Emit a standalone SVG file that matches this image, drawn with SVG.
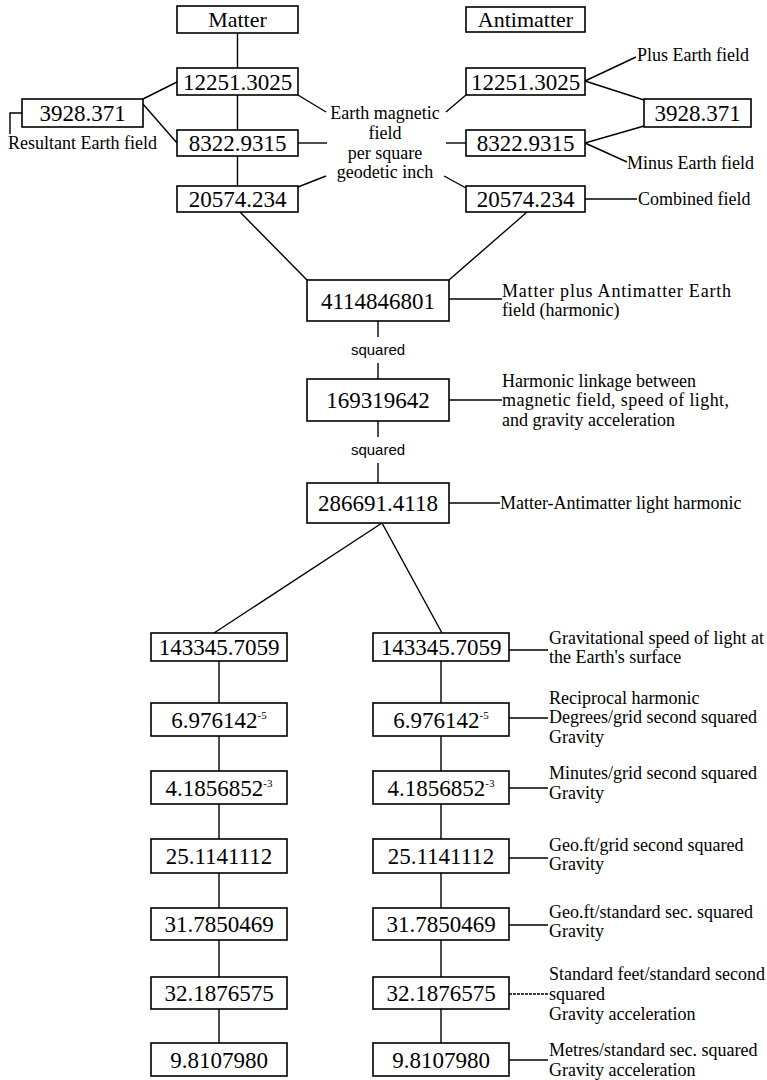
<svg xmlns="http://www.w3.org/2000/svg" width="767" height="1080" viewBox="0 0 767 1080">
<style>
.box{fill:#fff;stroke:#000;stroke-width:1.6}
.ln{stroke:#000;stroke-width:1.4;fill:none}
.num{font-family:"Liberation Serif","Times New Roman",serif;font-size:23px;text-anchor:middle;fill:#000}
.hd{font-family:"Liberation Serif","Times New Roman",serif;font-size:22px;text-anchor:middle;fill:#000}
.lbl{font-family:"Liberation Serif","Times New Roman",serif;font-size:18px;fill:#000}
.mid{text-anchor:middle}
.sq{font-family:"Liberation Sans",Arial,sans-serif;font-size:15px;text-anchor:middle;fill:#000}
.sup{font-size:11px}
</style>
<rect width="767" height="1080" fill="#fff"/>
<g id="connectors">
  <line class="ln" x1="237.5" y1="33" x2="237.5" y2="68"/>
  <line class="ln" x1="237.5" y1="95" x2="237.5" y2="130"/>
  <line class="ln" x1="237.5" y1="156" x2="237.5" y2="186"/>
  <line class="ln" x1="143" y1="99" x2="177" y2="82"/>
  <line class="ln" x1="143" y1="104" x2="177" y2="143"/>
  <polyline class="ln" points="22,113 10,113 10,134"/>
  <line class="ln" x1="298" y1="95" x2="326" y2="112"/>
  <line class="ln" x1="298" y1="143" x2="327" y2="143"/>
  <line class="ln" x1="298" y1="187" x2="326" y2="176"/>
  <line class="ln" x1="446" y1="112" x2="466" y2="95"/>
  <line class="ln" x1="446" y1="143" x2="466" y2="143"/>
  <line class="ln" x1="444" y1="176" x2="466" y2="188"/>
  <line class="ln" x1="585" y1="81" x2="636" y2="57"/>
  <line class="ln" x1="585" y1="81" x2="644" y2="100"/>
  <line class="ln" x1="585" y1="143" x2="644" y2="126"/>
  <line class="ln" x1="585" y1="143" x2="627" y2="162"/>
  <line class="ln" x1="585" y1="199" x2="637" y2="199"/>
  <line class="ln" x1="240" y1="212" x2="307" y2="280"/>
  <line class="ln" x1="527" y1="212" x2="449" y2="280"/>
  <line class="ln" x1="449" y1="299" x2="502" y2="299"/>
  <line class="ln" x1="378" y1="321" x2="378" y2="337"/>
  <line class="ln" x1="378" y1="363" x2="378" y2="379"/>
  <line class="ln" x1="449" y1="400" x2="502" y2="400"/>
  <line class="ln" x1="378" y1="421" x2="378" y2="437"/>
  <line class="ln" x1="378" y1="463" x2="378" y2="483"/>
  <line class="ln" x1="449" y1="503" x2="500" y2="503"/>
  <line class="ln" x1="382" y1="523" x2="214" y2="633"/>
  <line class="ln" x1="382" y1="523" x2="442" y2="633"/>
  <line class="ln" x1="219" y1="661" x2="219" y2="703"/>
  <line class="ln" x1="219" y1="736" x2="219" y2="771"/>
  <line class="ln" x1="219" y1="804" x2="219" y2="839"/>
  <line class="ln" x1="219" y1="873" x2="219" y2="908"/>
  <line class="ln" x1="219" y1="940" x2="219" y2="977"/>
  <line class="ln" x1="219" y1="1009" x2="219" y2="1043"/>
  <line class="ln" x1="441" y1="661" x2="441" y2="703"/>
  <line class="ln" x1="441" y1="736" x2="441" y2="771"/>
  <line class="ln" x1="441" y1="804" x2="441" y2="839"/>
  <line class="ln" x1="441" y1="873" x2="441" y2="908"/>
  <line class="ln" x1="441" y1="940" x2="441" y2="977"/>
  <line class="ln" x1="441" y1="1009" x2="441" y2="1043"/>
  <line class="ln" x1="509" y1="650" x2="548" y2="650"/>
  <line class="ln" x1="509" y1="718" x2="548" y2="718"/>
  <line class="ln" x1="509" y1="788" x2="548" y2="788"/>
  <line class="ln" x1="509" y1="858" x2="548" y2="858"/>
  <line class="ln" x1="509" y1="925" x2="548" y2="925"/>
  <line class="ln" x1="509" y1="994" x2="548" y2="994" stroke-dasharray="3,1"/>
  <line class="ln" x1="509" y1="1060" x2="548" y2="1060"/>
</g>

<g id="n-matter"><rect class="box" x="177" y="6" width="121" height="27"/><text class="hd" x="237.5" y="27">Matter</text></g>
<g id="n-antimatter"><rect class="box" x="466" y="7" width="119" height="25"/><text class="hd" x="525.5" y="27">Antimatter</text></g>

<g id="n-l-12251"><rect class="box" x="177" y="68" width="121" height="27"/><text class="num" x="237.5" y="89.5">12251.3025</text></g>
<g id="n-l-8322"><rect class="box" x="177" y="130" width="121" height="26"/><text class="num" x="237.5" y="151">8322.9315</text></g>
<g id="n-l-20574"><rect class="box" x="177" y="186" width="121" height="26"/><text class="num" x="237.5" y="207">20574.234</text></g>
<g id="n-l-3928"><rect class="box" x="22" y="99" width="121" height="28"/><text class="num" x="82.5" y="121">3928.371</text></g>

<g id="n-r-12251"><rect class="box" x="466" y="68" width="119" height="27"/><text class="num" x="525.5" y="89.5">12251.3025</text></g>
<g id="n-r-8322"><rect class="box" x="466" y="130" width="119" height="26"/><text class="num" x="525.5" y="151">8322.9315</text></g>
<g id="n-r-20574"><rect class="box" x="466" y="186" width="119" height="26"/><text class="num" x="525.5" y="207">20574.234</text></g>
<g id="n-r-3928"><rect class="box" x="644" y="99" width="107" height="28"/><text class="num" x="697.5" y="121">3928.371</text></g>

<g id="lbl-resultant"><text class="lbl" x="8" y="149">Resultant Earth field</text></g>
<g id="lbl-earth-magnetic">
  <text class="lbl mid" x="385" y="119">Earth magnetic</text>
  <text class="lbl mid" x="385" y="139">field</text>
  <text class="lbl mid" x="385" y="159">per square</text>
  <text class="lbl mid" x="385" y="178">geodetic inch</text>
</g>
<g id="lbl-plus"><text class="lbl" x="637" y="61">Plus Earth field</text></g>
<g id="lbl-minus"><text class="lbl" x="627" y="169">Minus Earth field</text></g>
<g id="lbl-combined"><text class="lbl" x="638" y="205">Combined field</text></g>

<g id="n-4114846801"><rect class="box" x="307" y="280" width="142" height="41"/><text class="num" x="378" y="308.5">4114846801</text></g>
<g id="lbl-matter-plus">
  <text class="lbl" x="502" y="297" letter-spacing="0.8">Matter plus Antimatter Earth</text>
  <text class="lbl" x="502" y="316">field (harmonic)</text>
</g>
<g id="lbl-squared-1"><text class="sq" x="378" y="355">squared</text></g>

<g id="n-169319642"><rect class="box" x="307" y="379" width="142" height="42"/><text class="num" x="378" y="408">169319642</text></g>
<g id="lbl-harmonic-linkage">
  <text class="lbl" x="502" y="387">Harmonic linkage between</text>
  <text class="lbl" x="502" y="406" letter-spacing="0.4">magnetic field, speed of light,</text>
  <text class="lbl" x="502" y="426">and gravity acceleration</text>
</g>
<g id="lbl-squared-2"><text class="sq" x="378" y="455">squared</text></g>

<g id="n-286691"><rect class="box" x="307" y="483" width="142" height="40"/><text class="num" x="378" y="511">286691.4118</text></g>
<g id="lbl-light-harmonic"><text class="lbl" x="500" y="509">Matter-Antimatter light harmonic</text></g>

<g id="n-l-143345"><rect class="box" x="151" y="633" width="136" height="28"/><text class="num" x="219" y="655">143345.7059</text></g>
<g id="n-l-6976"><rect class="box" x="151" y="703" width="136" height="33"/><text class="num" x="219" y="727.5">6.976142<tspan class="sup" dy="-9">-5</tspan></text></g>
<g id="n-l-41856"><rect class="box" x="151" y="771" width="136" height="33"/><text class="num" x="219" y="795.5">4.1856852<tspan class="sup" dy="-9">-3</tspan></text></g>
<g id="n-l-25114"><rect class="box" x="151" y="839" width="136" height="34"/><text class="num" x="219" y="864">25.1141112</text></g>
<g id="n-l-31785"><rect class="box" x="151" y="908" width="136" height="32"/><text class="num" x="219" y="932">31.7850469</text></g>
<g id="n-l-32187"><rect class="box" x="151" y="977" width="136" height="32"/><text class="num" x="219" y="1001">32.1876575</text></g>
<g id="n-l-98107"><rect class="box" x="151" y="1043" width="136" height="33"/><text class="num" x="219" y="1067.5">9.8107980</text></g>

<g id="n-r-143345"><rect class="box" x="373" y="633" width="136" height="28"/><text class="num" x="441" y="655">143345.7059</text></g>
<g id="n-r-6976"><rect class="box" x="373" y="703" width="136" height="33"/><text class="num" x="441" y="727.5">6.976142<tspan class="sup" dy="-9">-5</tspan></text></g>
<g id="n-r-41856"><rect class="box" x="373" y="771" width="136" height="33"/><text class="num" x="441" y="795.5">4.1856852<tspan class="sup" dy="-9">-3</tspan></text></g>
<g id="n-r-25114"><rect class="box" x="373" y="839" width="136" height="34"/><text class="num" x="441" y="864">25.1141112</text></g>
<g id="n-r-31785"><rect class="box" x="373" y="908" width="136" height="32"/><text class="num" x="441" y="932">31.7850469</text></g>
<g id="n-r-32187"><rect class="box" x="373" y="977" width="136" height="32"/><text class="num" x="441" y="1001">32.1876575</text></g>
<g id="n-r-98107"><rect class="box" x="373" y="1043" width="136" height="33"/><text class="num" x="441" y="1067.5">9.8107980</text></g>

<g id="lbl-grav-speed">
  <text class="lbl" x="549" y="644">Gravitational speed of light at</text>
  <text class="lbl" x="549" y="663">the Earth's surface</text>
</g>
<g id="lbl-reciprocal">
  <text class="lbl" x="549" y="704">Reciprocal harmonic</text>
  <text class="lbl" x="549" y="723">Degrees/grid second squared</text>
  <text class="lbl" x="549" y="743">Gravity</text>
</g>
<g id="lbl-minutes">
  <text class="lbl" x="549" y="779">Minutes/grid second squared</text>
  <text class="lbl" x="549" y="799">Gravity</text>
</g>
<g id="lbl-geoft-grid">
  <text class="lbl" x="549" y="851">Geo.ft/grid second squared</text>
  <text class="lbl" x="549" y="870">Gravity</text>
</g>
<g id="lbl-geoft-std">
  <text class="lbl" x="549" y="918">Geo.ft/standard sec. squared</text>
  <text class="lbl" x="549" y="937">Gravity</text>
</g>
<g id="lbl-std-feet">
  <text class="lbl" x="549" y="980">Standard feet/standard second</text>
  <text class="lbl" x="549" y="1000">squared</text>
  <text class="lbl" x="549" y="1020">Gravity acceleration</text>
</g>
<g id="lbl-metres">
  <text class="lbl" x="549" y="1056">Metres/standard sec. squared</text>
  <text class="lbl" x="549" y="1076">Gravity acceleration</text>
</g>
</svg>
